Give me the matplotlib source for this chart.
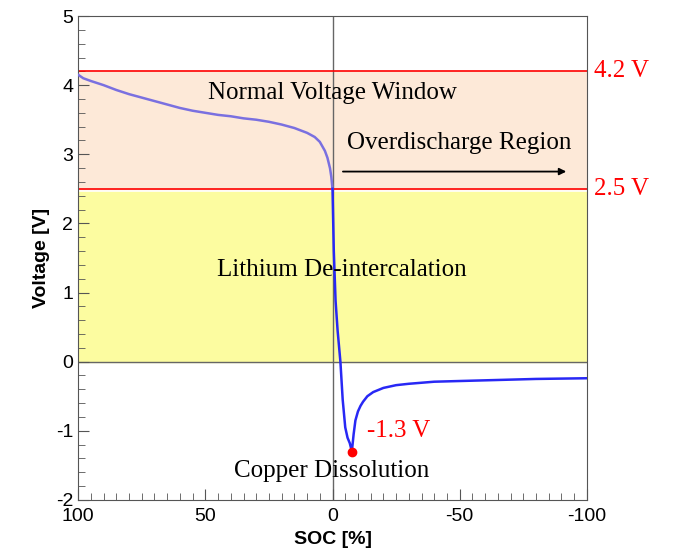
import matplotlib
matplotlib.use("Agg")
import matplotlib.pyplot as plt
from matplotlib.ticker import MultipleLocator

plt.rcParams['axes.unicode_minus'] = False
plt.rcParams['font.family'] = ['Liberation Sans', 'DejaVu Sans']

# discharge curve (normal window), SOC [%] vs voltage [V]
soc_normal = [100, 98, 95, 90, 85, 80, 75, 70, 65, 60, 55, 50, 45, 40, 35, 30,
              25, 20, 15, 10, 7, 5, 3, 2, 1, 0.5, 0]
v_normal = [4.15, 4.10, 4.06, 4.00, 3.93, 3.87, 3.82, 3.77, 3.72, 3.67, 3.63,
            3.60, 3.57, 3.55, 3.52, 3.50, 3.47, 3.43, 3.38, 3.31, 3.25, 3.18,
            3.05, 2.95, 2.80, 2.68, 2.50]

# overdischarge part
soc_over = [0, -0.5, -1.2, -2, -3.1, -4, -5, -5.9, -6.8, -7.6, -8.3, -9, -10,
            -11, -12, -13.7, -16, -20, -25, -30, -40, -50, -60, -70, -80, -90, -100]
v_over = [2.50, 1.60, 0.88, 0.45, 0.0, -0.55, -0.95, -1.10, -1.18, -1.30,
          -1.05, -0.85, -0.72, -0.64, -0.58, -0.50, -0.44, -0.38, -0.34, -0.32,
          -0.29, -0.28, -0.27, -0.26, -0.25, -0.245, -0.24]

v_upper = 4.2
v_lower = 2.5
v_min_soc, v_min = -7.6, -1.3

fig = plt.figure(figsize=(6.8, 5.53), dpi=100)
ax = fig.add_axes([0.115, 0.096, 0.748, 0.875])

ax.axhspan(v_lower, v_upper, color='#fde9d8', zorder=0)
ax.axhspan(0, v_lower - 0.05, color='#fcfca0', zorder=0)
ax.axhline(v_upper, color='#ff0000', lw=1.2, zorder=2)
ax.axhline(v_lower, color='#ff0000', lw=1.2, zorder=2)
ax.axhline(0, color='#666666', lw=1, zorder=1)
ax.axvline(0, color='#666666', lw=1, zorder=1)

ax.plot(soc_normal, v_normal, color='#7a70e0', lw=1.8, zorder=3)
ax.plot(soc_over, v_over, color='#2828f5', lw=1.8, zorder=3)
ax.plot([v_min_soc], [v_min], 'o', color='#ff0000', ms=6, zorder=4)

ax.set_xlim(100, -100)
ax.set_ylim(-2, 5)
ax.xaxis.set_major_locator(MultipleLocator(50))
ax.xaxis.set_minor_locator(MultipleLocator(5))
ax.yaxis.set_major_locator(MultipleLocator(1))
ax.yaxis.set_minor_locator(MultipleLocator(0.2))
ax.tick_params(which='both', direction='in', labelsize=14, colors='#555555',
               labelcolor='black')
ax.tick_params(which='major', length=8)
ax.tick_params(which='minor', length=5)
ax.tick_params(axis='x', pad=6)
for s in ax.spines.values():
    s.set_color('#555555')

ax.set_xlabel('SOC [%]', fontsize=14, fontweight='bold')
ax.set_ylabel('Voltage [V]', fontsize=14, fontweight='bold')

serif = 'Liberation Serif'
ax.text(0, 3.88, 'Normal Voltage Window', fontsize=18, family=serif,
        ha='center', va='center')
ax.text(-50, 3.16, 'Overdischarge Region', fontsize=18, family=serif,
        ha='center', va='center')
ax.annotate('', xy=(-93, 2.75), xytext=(-3, 2.75),
            arrowprops=dict(arrowstyle='-|>', color='black', lw=1.3))
ax.text(-3.5, 1.32, 'Lithium De-intercalation', fontsize=18, family=serif,
        ha='center', va='center')
ax.text(0.4, -1.58, 'Copper Dissolution', fontsize=18, family=serif,
        ha='center', va='center')
ax.text(-13.7, -1.01, '-1.3 V', fontsize=18, family=serif, color='#ff0000',
        ha='left', va='center')
ax.text(-103, v_upper, '4.2 V', fontsize=18, family=serif, color='#ff0000',
        ha='left', va='center', clip_on=False)
ax.text(-103, v_lower, '2.5 V', fontsize=18, family=serif, color='#ff0000',
        ha='left', va='center', clip_on=False)

fig.savefig('out.png', dpi=100)
